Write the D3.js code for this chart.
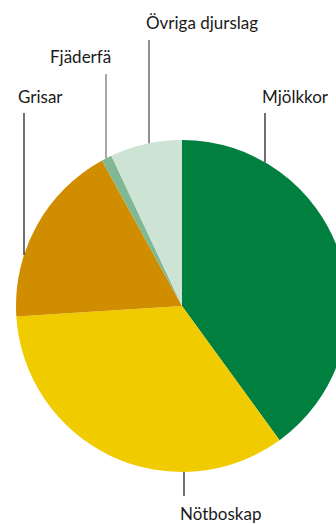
<!DOCTYPE html>
<html>
<head>
<meta charset="utf-8">
<script src="https://cdn.jsdelivr.net/npm/d3@7"></script>
<style>
  html, body { margin: 0; padding: 0; background: #fff; }
  svg { display: block; }
</style>
</head>
<body>
<script>
// Data (percent share)
const categories = ["Mjölkkor", "Nötboskap", "Grisar", "Fjäderfä", "Övriga djurslag"];
const values = [40, 34, 18, 1, 7];
const sliceColors = ["#007f3f", "#efcb00", "#d18d00", "#7fb893", "#cde3d4"];

// Label layout: leader line x, label text x / baseline, leader top
const labelLayout = {
  "Mjölkkor":        { lx: 265, tx: 262, ty: 103, top: 113, stroke: "#222" },
  "Nötboskap":       { lx: 184, tx: 180, ty: 520, top: 496, stroke: "#222", below: true },
  "Grisar":          { lx: 24,  tx: 18,  ty: 103, top: 113, stroke: "#222" },
  "Fjäderfä":        { lx: 106, tx: 50,  ty: 63,  top: 74,  stroke: "#777" },
  "Övriga djurslag": { lx: 149, tx: 146, ty: 29,  top: 40,  stroke: "#555" }
};

const W = 336, H = 525;
const cx = 182, cy = 306, r = 166;

const svg = d3.select("body")
  .append("svg")
  .attr("width", W)
  .attr("height", H);

const data = categories.map((c, i) => ({ name: c, value: values[i], color: sliceColors[i] }));

const pie = d3.pie()
  .sort(null)
  .value(d => d.value);

const arc = d3.arc()
  .innerRadius(0)
  .outerRadius(r);

const g = svg.append("g")
  .attr("transform", `translate(${cx},${cy})`);

g.selectAll("path")
  .data(pie(data))
  .enter()
  .append("path")
  .attr("d", arc)
  .attr("fill", d => d.data.color);

// leader lines: vertical, end on the pie rim
data.forEach(d => {
  const L = labelLayout[d.name];
  const dx = L.lx - cx;
  const dy = Math.sqrt(r * r - dx * dx);
  const rimY = L.below ? cy + dy : cy - dy;
  svg.append("line")
    .attr("x1", L.lx)
    .attr("x2", L.lx)
    .attr("y1", L.top)
    .attr("y2", rimY)
    .attr("stroke", L.stroke)
    .attr("stroke-width", 1.3);

  svg.append("text")
    .attr("x", L.tx)
    .attr("y", L.ty)
    .style("font-family", "Lato, 'Open Sans', sans-serif")
    .style("font-size", "17px")
    .attr("fill", "#1a1a1a")
    .text(d.name);
});
</script>
</body>
</html>
